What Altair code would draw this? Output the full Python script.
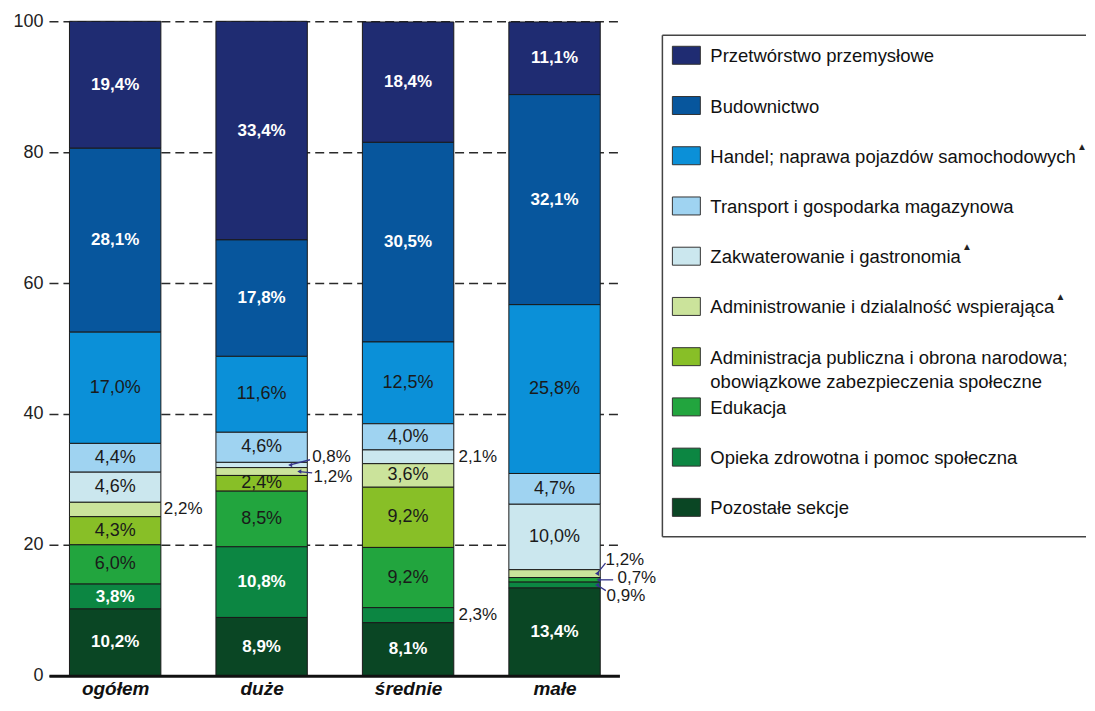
import json
import altair as alt
import pandas as pd

# ---------------- data ----------------
groups = ["ogółem", "duże", "średnie", "małe"]

sector_labels = [
    "Przetwórstwo przemysłowe",
    "Budownictwo",
    "Handel; naprawa pojazdów samochodowych",
    "Transport i gospodarka magazynowa",
    "Zakwaterowanie i gastronomia",
    "Administrowanie i dzialalność wspierająca",
    "Administracja publiczna i obrona narodowa;\nobowiązkowe zabezpieczenia społeczne",
    "Edukacja",
    "Opieka zdrowotna i pomoc społeczna",
    "Pozostałe sekcje",
]
sector_colors = ["#1f2c72", "#07569d", "#0b90d8", "#9fd3f1", "#cbe7ee",
                 "#cbe39b", "#88bf27", "#22a53e", "#0c8642", "#0a4624"]
has_triangle = [False, False, True, False, True, True, False, False, False, False]
white_text = [True, True, False, False, False, False, False, False, True, True]

share_ogolem = [19.4, 28.1, 17.0, 4.4, 4.6, 2.2, 4.3, 6.0, 3.8, 10.2]
share_duze = [33.4, 17.8, 11.6, 4.6, 0.8, 1.2, 2.4, 8.5, 10.8, 8.9]
share_srednie = [18.4, 30.5, 12.5, 4.0, 2.1, 3.6, 9.2, 9.2, 2.3, 8.1]
share_male = [11.1, 32.1, 25.8, 4.7, 10.0, 1.2, 0.0, 0.7, 0.9, 13.4]
shares = [share_ogolem, share_duze, share_srednie, share_male]

# labels drawn outside the bars (group, sector index, label x offset, label y or None,
# arrow head x offset, arrow tail x offset, arrow tail y or None)
outside = [
    ("ogółem", 5, 0.332, None, None, None, None),
    ("średnie", 4, 0.344, None, None, None, None),
    ("średnie", 8, 0.344, None, None, None, None),
    ("duże", 4, 0.345, 33.4, 0.195, 0.33, 33.0),
    ("duże", 5, 0.355, 30.4, 0.257, 0.345, 31.0),
    ("małe", 5, 0.348, 17.7, 0.29, 0.348, 17.2),
    ("małe", 7, 0.43, 14.9, 0.30, 0.40, None),
    ("małe", 8, 0.355, 12.2, 0.29, 0.35, 13.0),
]

NARROW = "Liberation Sans Narrow, Arial Narrow, Liberation Sans, Arial"
SANS = "Liberation Sans, Arial, Helvetica"


def fmt(v):
    return f"{v:.1f}".replace(".", ",") + "%"


rows = []
for gi, (g, vals) in enumerate(zip(groups, shares)):
    for si, v in enumerate(vals):
        rows.append({
            "group": g, "gidx": gi, "sector": sector_labels[si],
            "order": 9 - si, "value": v, "label": fmt(v),
            "inside": v >= 2.4, "white": white_text[si],
        })
df = pd.DataFrame(rows)


def seg_mid(gi, si):
    vals = shares[gi]
    below = sum(vals[si + 1:])
    return below + vals[si] / 2


ann = []
for g, si, ldx, ly, hdx, tdx, ty in outside:
    gi = groups.index(g)
    mid = seg_mid(gi, si)
    ann.append({
        "lx": gi + ldx, "ly": mid if ly is None else ly,
        "text": fmt(shares[gi][si]),
        "arrow": hdx is not None,
        "hx": gi + (hdx if hdx is not None else 0), "hy": mid,
        "tx": gi + (tdx if tdx is not None else 0),
        "ty": mid if ty is None else ty,
    })
ann_df = pd.DataFrame(ann)

# ---------------- bar panel ----------------
W, H = 571, 655
xscale = alt.Scale(domain=[-0.452, 3.443], nice=False, zero=False)
yscale = alt.Scale(domain=[0, 100], nice=False)
label_expr = json.dumps(groups, ensure_ascii=False) + "[datum.value]"

stacked = alt.Chart(df).transform_stack(
    stack="value", groupby=["group"], as_=["y0", "y1"],
    sort=[alt.SortField("order", order="ascending")],
).transform_calculate(
    xl="datum.gidx - 0.312", xr="datum.gidx + 0.312", ym="(datum.y0 + datum.y1) / 2"
)

bars = stacked.mark_rect(stroke="#1a1a1a", strokeWidth=1).encode(
    x=alt.X("xl:Q", scale=xscale,
            axis=alt.Axis(values=[0, 1, 2, 3], labelExpr=label_expr, title=None,
                          grid=False, ticks=False, domain=True, domainColor="#111",
                          domainWidth=3, labelFont=SANS, labelFontSize=19,
                          labelFontWeight="bold", labelFontStyle="italic",
                          labelColor="#111", labelPadding=4, zindex=1)),
    x2="xr:Q",
    y=alt.Y("y0:Q", scale=yscale,
            axis=alt.Axis(values=[0, 20, 40, 60, 80, 100], title=None, domain=False,
                          ticks=False, grid=True, gridDash=[9, 5], gridColor="#2a2a2a",
                          gridWidth=1.4, labelFont=SANS, labelFontSize=18,
                          labelColor="#222", labelPadding=6)),
    y2="y1:Q",
    color=alt.Color("sector:N", scale=alt.Scale(domain=sector_labels, range=sector_colors),
                    legend=None),
)

lab_white = stacked.transform_filter("datum.inside && datum.white").mark_text(
    font=SANS, fontSize=17, fontWeight="bold", color="white", baseline="middle"
).encode(x=alt.X("gidx:Q", scale=xscale), y=alt.Y("ym:Q", scale=yscale), text="label:N")

lab_dark = stacked.transform_filter("datum.inside && !datum.white").mark_text(
    font=NARROW, fontSize=18, color="#1a1a1a", baseline="middle"
).encode(x=alt.X("gidx:Q", scale=xscale), y=alt.Y("ym:Q", scale=yscale), text="label:N")

ann_base = alt.Chart(ann_df)
ann_text = ann_base.mark_text(font=NARROW, fontSize=17, color="#1a1a1a",
                              align="left", baseline="middle").encode(
    x=alt.X("lx:Q", scale=xscale), y=alt.Y("ly:Q", scale=yscale), text="text:N")
ann_rule = ann_base.transform_filter("datum.arrow").mark_rule(
    color="#34348a", strokeWidth=1.3).encode(
    x=alt.X("tx:Q", scale=xscale), x2="hx:Q",
    y=alt.Y("ty:Q", scale=yscale), y2="hy:Q")
ann_head = ann_base.transform_filter("datum.arrow").mark_point(
    shape="triangle-left", filled=True, size=22, color="#34348a", opacity=1).encode(
    x=alt.X("hx:Q", scale=xscale), y=alt.Y("hy:Q", scale=yscale))

bar_panel = alt.layer(bars, lab_white, lab_dark, ann_rule, ann_head, ann_text).properties(
    width=W, height=H)

# ---------------- legend panel ----------------
ARIAL_W = {' ': 278, ';': 278, ',': 278, '.': 278, 'a': 556, 'b': 556, 'c': 500, 'd': 556,
           'e': 556, 'f': 278, 'g': 556, 'h': 556, 'i': 222, 'j': 222, 'k': 500, 'l': 222,
           'm': 833, 'n': 556, 'o': 556, 'p': 556, 'q': 556, 'r': 333, 's': 500, 't': 278,
           'u': 556, 'v': 500, 'w': 722, 'x': 500, 'y': 500, 'z': 500, 'ą': 556, 'ć': 500,
           'ę': 556, 'ł': 222, 'ń': 556, 'ó': 556, 'ś': 500, 'ź': 500, 'ż': 500, 'A': 667,
           'B': 667, 'E': 667, 'H': 722, 'O': 778, 'P': 667, 'T': 611, 'Z': 611}
LEG_FS = 18.5
TEXT_X = 48


def text_width(s, fs):
    return sum(ARIAL_W.get(c, 556) for c in s) * fs / 1000.0


leg_rows = []
for si, lab in enumerate(sector_labels):
    leg_rows.append({
        "sector": lab,
        "tri": has_triangle[si],
        "tri_x": TEXT_X + text_width(lab.split("\n")[0], LEG_FS) + 1,
    })
leg_df = pd.DataFrame(leg_rows)

leg_y = alt.Y("sector:N",
              scale=alt.Scale(type="point", domain=sector_labels, range=[34, 486.5], padding=0),
              axis=None)
LW = 424
leg_base = alt.Chart(leg_df)
swatch = leg_base.mark_point(shape="M-1.4,-0.9H1.4V0.9H-1.4Z", size=400, filled=True,
                             stroke="#333", strokeWidth=1, opacity=1).encode(
    x=alt.value(24), y=leg_y,
    fill=alt.Fill("sector:N", scale=alt.Scale(domain=sector_labels, range=sector_colors),
                  legend=None))
leg_text = leg_base.mark_text(font=SANS, fontSize=LEG_FS, color="#111", align="left",
                              baseline="alphabetic", dy=7, lineBreak="\n", lineHeight=24).encode(
    x=alt.value(TEXT_X), y=leg_y, text="sector:N")
leg_tri = leg_base.transform_filter("datum.tri").mark_text(
    text="▲", fontSize=10, color="#222", align="left", baseline="middle", dy=-9).encode(
    x=alt.X("tri_x:Q", scale=None), y=leg_y)

# open frame (left, top, bottom sides; the right side runs off the page in the original)
frame_df = pd.DataFrame({
    "x": [0, 0, 0], "x2": [LW, LW, 0], "y": [14, 516, 14], "y2": [14, 516, 516],
})
leg_box = alt.Chart(frame_df).mark_rule(color="#444", strokeWidth=1.5).encode(
    x=alt.X("x:Q", scale=None), x2="x2:Q", y=alt.Y("y:Q", scale=None), y2="y2:Q")

legend_panel = alt.layer(leg_box, swatch, leg_text, leg_tri).properties(width=LW, height=520)

chart = alt.hconcat(bar_panel, legend_panel, spacing=43, bounds="flush").properties(
    padding={"left": 4, "top": 4, "right": 0, "bottom": 0}
).configure_view(stroke=None)

chart.save("out.html", embed_options={"renderer": "svg", "actions": False})
